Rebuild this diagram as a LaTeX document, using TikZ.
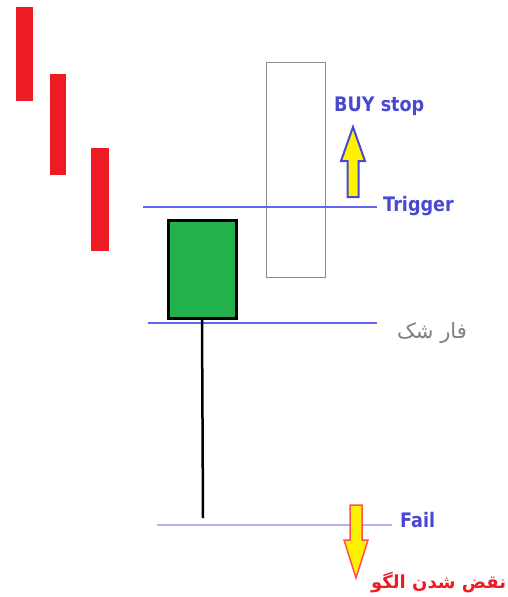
\documentclass[tikz,border=0pt]{standalone}
\usepackage{fontspec}
\setmainfont{DejaVu Sans}
\newfontfamily\arabicfont[Script=Arabic]{DejaVu Sans}
\newfontfamily\lblfont[FakeStretch=0.88]{DejaVu Sans}
\TeXXeTstate=1
\definecolor{barred}{HTML}{ED1C24}
\definecolor{bodygreen}{HTML}{22B14C}
\definecolor{lineblue}{RGB}{100,100,240}
\definecolor{lightblue}{RGB}{176,180,244}
\definecolor{textblue}{HTML}{4848D2}
\definecolor{arrowyellow}{HTML}{FFF200}
\definecolor{arrowred}{HTML}{FF5050}
\tikzset{
  redbar/.style={fill=barred, draw=none},
  levelline/.style={draw=lineblue, line width=1.3pt},
  lbl/.style={text=textblue, font=\lblfont\bfseries\fontsize{20}{22}\selectfont, inner sep=0pt, anchor=west},
}
\begin{document}
\begin{tikzpicture}[x=1pt,y=-1pt]
\useasboundingbox (0,0) rectangle (508,597);
% red falling bars
\fill[redbar] (16,7) rectangle (33,101);
\fill[redbar] (50,74) rectangle (66,175);
\fill[redbar] (91,148) rectangle (109,251);
% hollow candle
\node[draw=gray!90, line width=1pt, minimum width=59pt, minimum height=215pt, inner sep=0pt, anchor=north west] (hollow) at (266,62) {};
% level lines
\coordinate (t1) at (143,207); \coordinate (t2) at (377,207);
\draw[levelline] (t1) -- (t2);
\coordinate (f1) at (148,323); \coordinate (f2) at (377,323);
\draw[levelline] (f1) -- (f2);
\coordinate (l1) at (157,525); \coordinate (l2) at (392,525);
\draw[draw=lightblue, line width=2pt] (l1) -- (l2);
% green candle with wick
\node[draw=black, fill=bodygreen, line width=3pt, minimum width=68pt, minimum height=98pt, inner sep=0pt, anchor=north west] (green) at (166.5,218.5) {};
\coordinate (wickend) at (203,518);
\draw[line width=2.5pt] (green.south) -- (wickend);
% labels
\node[lbl] (trigger) at (383,206) {Trigger};
\node[lbl] (fail) at (400,520) {Fail};
\node[lbl] (buy) at (334,106) {BUY stop};
\node[inner sep=0pt, anchor=west, text=gray, font=\arabicfont\fontsize{21}{24}\selectfont] (farshak) at (397,333) {\beginR فار شک\endR};
\node[inner sep=0pt, anchor=west, text=barred, font=\arabicfont\bfseries\fontsize{18}{20}\selectfont] (fault) at (371,583) {\beginR نقض شدن الگو\endR};
% up arrow
\draw[draw=textblue, fill=arrowyellow, line width=2pt, line join=miter]
  (347.5,197) -- (358.5,197) -- (358.5,161) -- (365,161) -- (353,127) -- (341,161) -- (347.5,161) -- cycle;
% down arrow
\draw[draw=arrowred, fill=arrowyellow, line width=1.5pt, line join=miter]
  (350,505) -- (362,505) -- (362,540) -- (368,540) -- (356,578) -- (344,540) -- (350,540) -- cycle;
\end{tikzpicture}
\end{document}
